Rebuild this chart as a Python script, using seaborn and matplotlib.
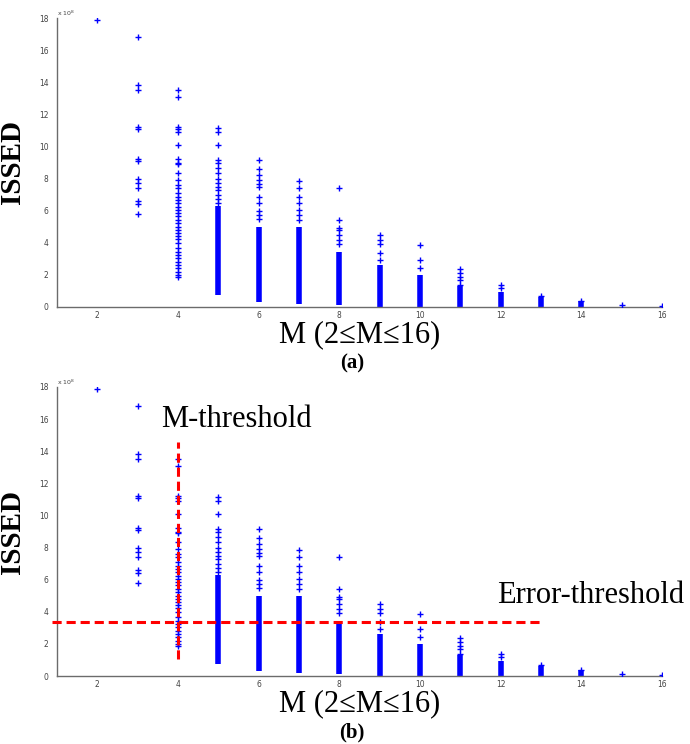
import numpy as np
import pandas as pd
import matplotlib
matplotlib.use("Agg")
import matplotlib.pyplot as plt
import seaborn as sns

# --- Data (ISSED in units of 1e8) ---
pts_m2 = [17.9]
pts_m3 = [16.8, 13.8, 13.5, 11.2, 11.1, 9.2, 9.1, 8.0, 7.7, 7.4, 6.6, 6.4, 5.8]
pts_m4 = [13.5, 13.1, 11.2, 11.1, 10.9, 10.1, 9.2, 9.0, 8.9,
          8.32, 7.91, 7.60, 7.39, 7.08, 6.87, 6.66, 6.46, 6.25, 6.04,
          5.87, 5.67, 5.42, 5.21, 5.00, 4.79, 4.59, 4.42, 4.21, 3.97,
          3.66, 3.44, 3.24, 3.03, 2.82, 2.62, 2.41, 2.20, 1.99, 1.89]
pts_m5 = [11.15, 10.9, 10.1, 9.15, 8.94, 8.63, 8.32, 7.97, 7.7, 7.49, 7.3, 6.97, 6.7, 6.5]
pts_m6 = [9.15, 8.6, 8.2, 7.9, 7.65, 7.45, 6.85, 6.5, 6.0, 5.7, 5.5]
pts_m7 = [7.85, 7.4, 6.85, 6.5, 6.05, 5.7, 5.4]
pts_m8 = [7.4, 5.4, 4.9, 4.8, 4.5, 4.2, 3.9]
pts_m9 = [4.5, 4.2, 3.9, 3.35, 2.9]
pts_m10 = [3.85, 2.9, 2.4]
pts_m11 = [2.35, 2.1, 1.85, 1.7, 1.4]
pts_m12 = [1.35, 1.2]
pts_m13 = [0.7]
pts_m14 = [0.4]
pts_m15 = [0.1]
pts_m16 = [0.05]

# dense (solid-looking) part of each column
dense_m = [5, 6, 7, 8, 9, 10, 11, 12, 13, 14]
dense_lo = [0.75, 0.3, 0.2, 0.1, 0.0, 0.0, 0.0, 0.0, 0.0, 0.0]
dense_hi = [6.3, 5.0, 5.0, 3.4, 2.6, 2.0, 1.3, 0.95, 0.65, 0.35]

# thresholds in panel (b)
m_threshold = 4
m_line_span = [1.05, 14.6]
error_threshold = 3.35
err_line_span = [0.88, 13.0]

x_ticks = [2, 4, 6, 8, 10, 12, 14, 16]
y_ticks = [0, 2, 4, 6, 8, 10, 12, 14, 16, 18]

columns = {2: pts_m2, 3: pts_m3, 4: pts_m4, 5: pts_m5, 6: pts_m6, 7: pts_m7,
           8: pts_m8, 9: pts_m9, 10: pts_m10, 11: pts_m11, 12: pts_m12,
           13: pts_m13, 14: pts_m14, 15: pts_m15, 16: pts_m16}
df = pd.DataFrame([(m, v) for m, vals in columns.items() for v in vals],
                  columns=["M", "ISSED"])

sns.set_style("white")
plt.rcParams['font.family'] = ['DejaVu Sans']
plt.rcParams['text.color'] = 'black'
plt.rcParams['axes.labelcolor'] = 'black'

SERIF = ['Liberation Serif', 'DejaVu Serif']
BLUE = '#0000ff'
GRAY = '#6b6b6b'

fig = plt.figure(figsize=(6.9, 7.44), dpi=100)
ax_a = fig.add_axes([57 / 690, 1 - 307 / 744, 605 / 690, 289 / 744])
ax_b = fig.add_axes([57 / 690, 1 - 676 / 744, 605 / 690, 289 / 744])


def draw_panel(ax, tag):
    ax.vlines(dense_m, dense_lo, dense_hi, color=BLUE, lw=4.0, zorder=2)
    sns.scatterplot(data=df, x="M", y="ISSED", marker="+", color=BLUE,
                    s=16, linewidth=1.0, ax=ax, zorder=3)
    ax.set_xlim(1, 16)
    ax.set_ylim(0, 18)
    ax.set_xticks(x_ticks)
    ax.set_yticks(y_ticks)
    sns.despine(ax=ax)
    for s in ['left', 'bottom']:
        ax.spines[s].set_color(GRAY)
        ax.spines[s].set_linewidth(1.0)
    ax.tick_params(axis='x', direction='in', length=4, width=0.8, colors=GRAY,
                   labelsize=5.5, labelcolor='#444444', pad=3)
    ax.tick_params(axis='y', direction='out', length=4, width=0.8, colors=GRAY,
                   labelsize=5.5, labelcolor='#444444', pad=2)
    ax.set_xlabel("M (2≤M≤16)", family=SERIF, fontsize=22, labelpad=0, color='black')
    ax.set_ylabel("ISSED", family=SERIF, fontsize=21, fontweight='bold',
                  labelpad=0, color='black')
    ax.yaxis.set_label_coords(-0.052, 0.5)
    ax.text(0.0, 1.0, r'x 10$^8$', transform=ax.transAxes, fontsize=4.5,
            color='#444444', ha='left', va='bottom')
    ax.text(0.488, -0.16, tag, transform=ax.transAxes, family=SERIF,
            fontsize=15, fontweight='bold', ha='center', va='top', color='black')


draw_panel(ax_a, "(a)")
draw_panel(ax_b, "(b)")

# threshold lines
ax_b.plot([m_threshold, m_threshold], m_line_span, color='red', lw=2.2,
          ls=(0, (3, 1.6)), zorder=4)
ax_b.plot(err_line_span, [error_threshold, error_threshold], color='red', lw=2.2,
          ls=(0, (3, 1.6)), zorder=4, clip_on=False)

fig.text(161 / 690, 1 - 427 / 744, "M-threshold", family=SERIF, fontsize=22,
         ha='left', va='baseline', color='black')
fig.text(497 / 690, 1 - 603 / 744, "Error-threshold", family=SERIF, fontsize=22,
         ha='left', va='baseline', color='black')

fig.savefig("out.png", dpi=100)
